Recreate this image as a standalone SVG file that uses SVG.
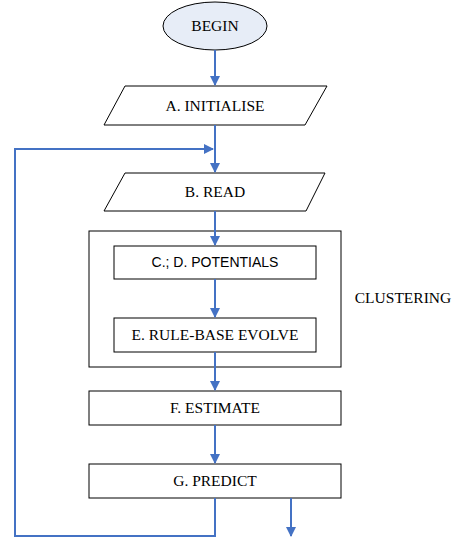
<svg xmlns="http://www.w3.org/2000/svg" width="456" height="537" viewBox="0 0 456 537">
<style>
.box{fill:#fff;stroke:#000;stroke-width:1}
.t{font-family:"Liberation Serif",serif;font-size:15.5px;fill:#000;text-anchor:middle}
.s{font-family:"Liberation Sans",sans-serif;font-size:14px;fill:#000;text-anchor:middle}
.c{fill:none;stroke:#4472C4;stroke-width:2}
</style>
<defs>
<marker id="ah" markerWidth="10" markerHeight="10" refX="9" refY="5" orient="auto" markerUnits="userSpaceOnUse">
<path d="M0,0 L10,5 L0,10 Z" fill="#4472C4"/>
</marker>
</defs>
<g id="cluster">
<rect class="box" x="89" y="231" width="252" height="136"/>
<text class="t" x="403" y="303">CLUSTERING</text>
</g>
<g id="begin">
<ellipse cx="215" cy="26" rx="52" ry="24" fill="#E7EDF7" stroke="#000" stroke-width="1"/>
<text class="t" x="215" y="31">BEGIN</text>
</g>
<g id="A">
<polygon class="box" points="125,86 327,86 305,125 104,125"/>
<text class="t" x="215" y="111">A. INITIALISE</text>
</g>
<g id="B">
<polygon class="box" points="125,173 325,173 306,211 104,211"/>
<text class="t" x="215" y="197">B. READ</text>
</g>
<g id="C">
<rect class="box" x="114" y="246" width="202" height="33"/>
<text class="s" x="215" y="267">C.; D. POTENTIALS</text>
</g>
<g id="E">
<rect class="box" x="114" y="318" width="202" height="34"/>
<text class="t" x="215" y="340">E. RULE-BASE EVOLVE</text>
</g>
<g id="F">
<rect class="box" x="89" y="391" width="252" height="34"/>
<text class="t" x="215" y="413">F. ESTIMATE</text>
</g>
<g id="G">
<rect class="box" x="89" y="464" width="252" height="34"/>
<text class="t" x="215" y="486">G. PREDICT</text>
</g>
<g id="connectors">
<line class="c" x1="215" y1="50" x2="215" y2="85" marker-end="url(#ah)"/>
<line class="c" x1="215" y1="125" x2="215" y2="172" marker-end="url(#ah)"/>
<polyline class="c" points="215,498 215,536 15,536 15,149 213,149" marker-end="url(#ah)"/>
<line class="c" x1="215" y1="211" x2="215" y2="245" marker-end="url(#ah)"/>
<line class="c" x1="215" y1="279" x2="215" y2="317" marker-end="url(#ah)"/>
<line class="c" x1="215" y1="352" x2="215" y2="390" marker-end="url(#ah)"/>
<line class="c" x1="215" y1="425" x2="215" y2="463" marker-end="url(#ah)"/>
<line class="c" x1="291" y1="498" x2="291" y2="536" marker-end="url(#ah)"/>
</g>
</svg>
